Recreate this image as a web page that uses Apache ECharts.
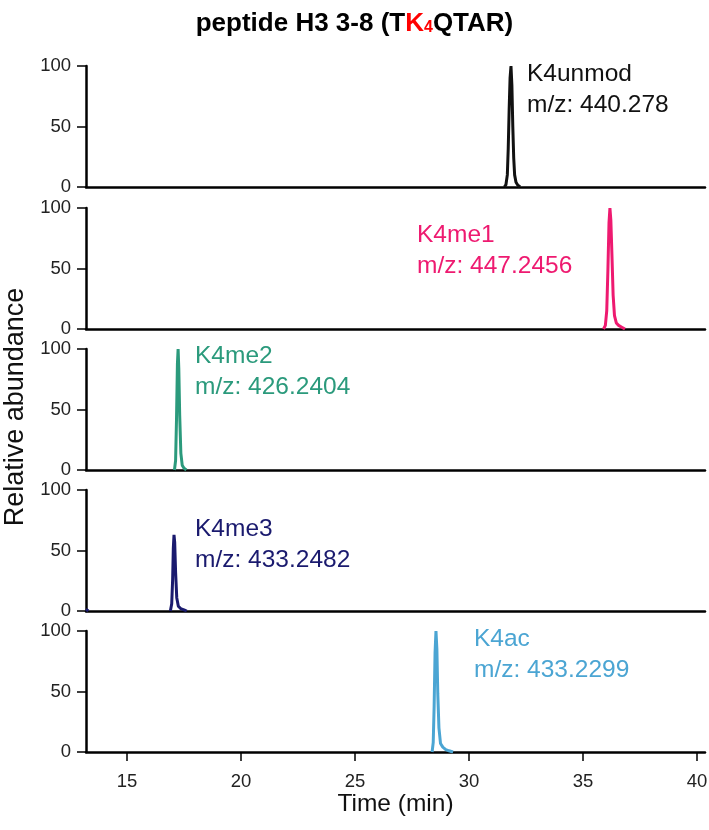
<!DOCTYPE html>
<html><head><meta charset="utf-8">
<script src="https://cdn.jsdelivr.net/npm/echarts@6/dist/echarts.min.js"></script>
<style>html,body{margin:0;padding:0;background:#fff}#c{width:709px;height:830px}</style>
</head><body><div id="c"></div>
<script>
// ---- data ----
const timeTicks = [15, 20, 25, 30, 35, 40];
const yTicks = [0, 50, 100];
const seriesNames = ['K4unmod', 'K4me1', 'K4me2', 'K4me3', 'K4ac'];
const mzLabels = ['m/z: 440.278', 'm/z: 447.2456', 'm/z: 426.2404', 'm/z: 433.2482', 'm/z: 433.2299'];

const unmodTime = [31.55, 31.62, 31.68, 31.72, 31.76, 31.80, 31.84, 31.88, 31.92, 31.96, 32.00, 32.06, 32.14, 32.24];
const unmodAbund = [0, 2, 10, 32, 64, 90, 100, 84, 50, 24, 10, 4, 1.5, 0];

const me1Time = [35.90, 35.98, 36.04, 36.09, 36.14, 36.18, 36.22, 36.27, 36.32, 36.38, 36.46, 36.56, 36.70, 36.84];
const me1Abund = [0, 3, 15, 48, 88, 100, 90, 60, 28, 11, 5, 3, 1.5, 0];

const me2Time = [17.08, 17.13, 17.17, 17.21, 17.24, 17.27, 17.31, 17.36, 17.42, 17.50, 17.60];
const me2Abund = [0, 8, 42, 88, 100, 84, 45, 14, 4, 1.5, 0];

const me3Time = [13.20, 13.25, 13.30, 13.35, 16.90, 16.96, 17.00, 17.03, 17.06, 17.09, 17.13, 17.18, 17.25, 17.35, 17.50, 17.62];
const me3Abund = [1.5, 0.5, 0, null, 0, 6, 26, 52, 63, 57, 32, 11, 4, 2, 1, 0];

const acTime = [28.38, 28.43, 28.47, 28.51, 28.55, 28.59, 28.63, 28.68, 28.75, 28.85, 28.98, 29.12, 29.30];
const acAbund = [0, 8, 38, 82, 100, 85, 48, 20, 7, 4, 2, 1, 0];

// ---- layout / style ----
const colors = ['#111111', '#ee1a70', '#2b9a7c', '#1a1a6e', '#4ba5d3'];
const gridTops = [66, 208, 349, 490, 631];
const gridH = 121;
const xMin = 13.2, xMax = 40.35;
const labelPos = [[527, 59], [417, 220], [195, 341], [195, 514], [474, 624]];
const FONT = 'Liberation Sans, Arial, sans-serif';

const times = [unmodTime, me1Time, me2Time, me3Time, acTime];
const abunds = [unmodAbund, me1Abund, me2Abund, me3Abund, acAbund];

const grids = [], xAxes = [], yAxes = [], series = [], graphics = [];
for (let i = 0; i < 5; i++) {
  const last = i === 4;
  grids.push({left: 86, right: 4, top: gridTops[i], height: gridH, containLabel: false, outerBoundsMode: 'none'});
  xAxes.push({
    type: 'value', gridIndex: i, min: xMin, max: xMax,
    splitLine: {show: false},
    axisLine: {show: true, onZero: false, lineStyle: {color: '#000', width: 2.5}},
    axisTick: {show: last, customValues: timeTicks, length: 9, lineStyle: {color: '#000', width: 1.5}},
    axisLabel: {show: last, customValues: timeTicks, margin: 20, color: '#222', fontSize: 18.5, fontFamily: FONT},
    name: last ? 'Time (min)' : '', nameLocation: 'middle', nameGap: 36,
    nameTextStyle: {fontSize: 24.5, color: '#111', fontFamily: FONT}
  });
  yAxes.push({
    type: 'value', gridIndex: i, min: 0, max: 100, interval: 50,
    splitLine: {show: false},
    axisLine: {show: true, lineStyle: {color: '#000', width: 2.5}},
    axisTick: {show: true, length: 9, lineStyle: {color: '#000', width: 1.5}},
    axisLabel: {show: true, margin: 15, color: '#222', fontSize: 18.5, fontFamily: FONT,
      formatter: v => yTicks.includes(v) ? String(v) : ''}
  });
  series.push({
    type: 'line', xAxisIndex: i, yAxisIndex: i, showSymbol: false, symbol: 'none',
    data: times[i].map((t, k) => [t, abunds[i][k]]), connectNulls: false,
    lineStyle: {color: colors[i], width: 3}, z: 3, silent: true
  });
  graphics.push({
    type: 'text', left: labelPos[i][0], top: labelPos[i][1],
    style: {text: seriesNames[i] + '\n' + mzLabels[i], fill: colors[i], fontSize: 24.5, lineHeight: 31, fontFamily: FONT}
  });
}
graphics.push({
  type: 'text', x: 16, y: 407, rotation: Math.PI / 2,
  style: {text: 'Relative abundance', fill: '#111', fontSize: 27, fontFamily: FONT, align: 'center', verticalAlign: 'middle'}
});

const chart = echarts.init(document.getElementById('c'), null, {renderer: 'canvas'});
chart.setOption({
  animation: false,
  backgroundColor: '#fff',
  title: {
    text: '{a|peptide H3 3-8 (T}{k|K}{s|4}{a|QTAR)}',
    left: 'center', top: 6,
    textStyle: {
      rich: {
        a: {fontSize: 26, fontWeight: 'bold', color: '#000', fontFamily: FONT},
        k: {fontSize: 26, fontWeight: 'bold', color: '#ff0000', fontFamily: FONT},
        s: {fontSize: 16, fontWeight: 'bold', color: '#ff0000', fontFamily: FONT, padding: [8, 0, 0, 0]}
      }
    }
  },
  grid: grids, xAxis: xAxes, yAxis: yAxes, series: series, graphic: graphics
});
</script></body></html>
